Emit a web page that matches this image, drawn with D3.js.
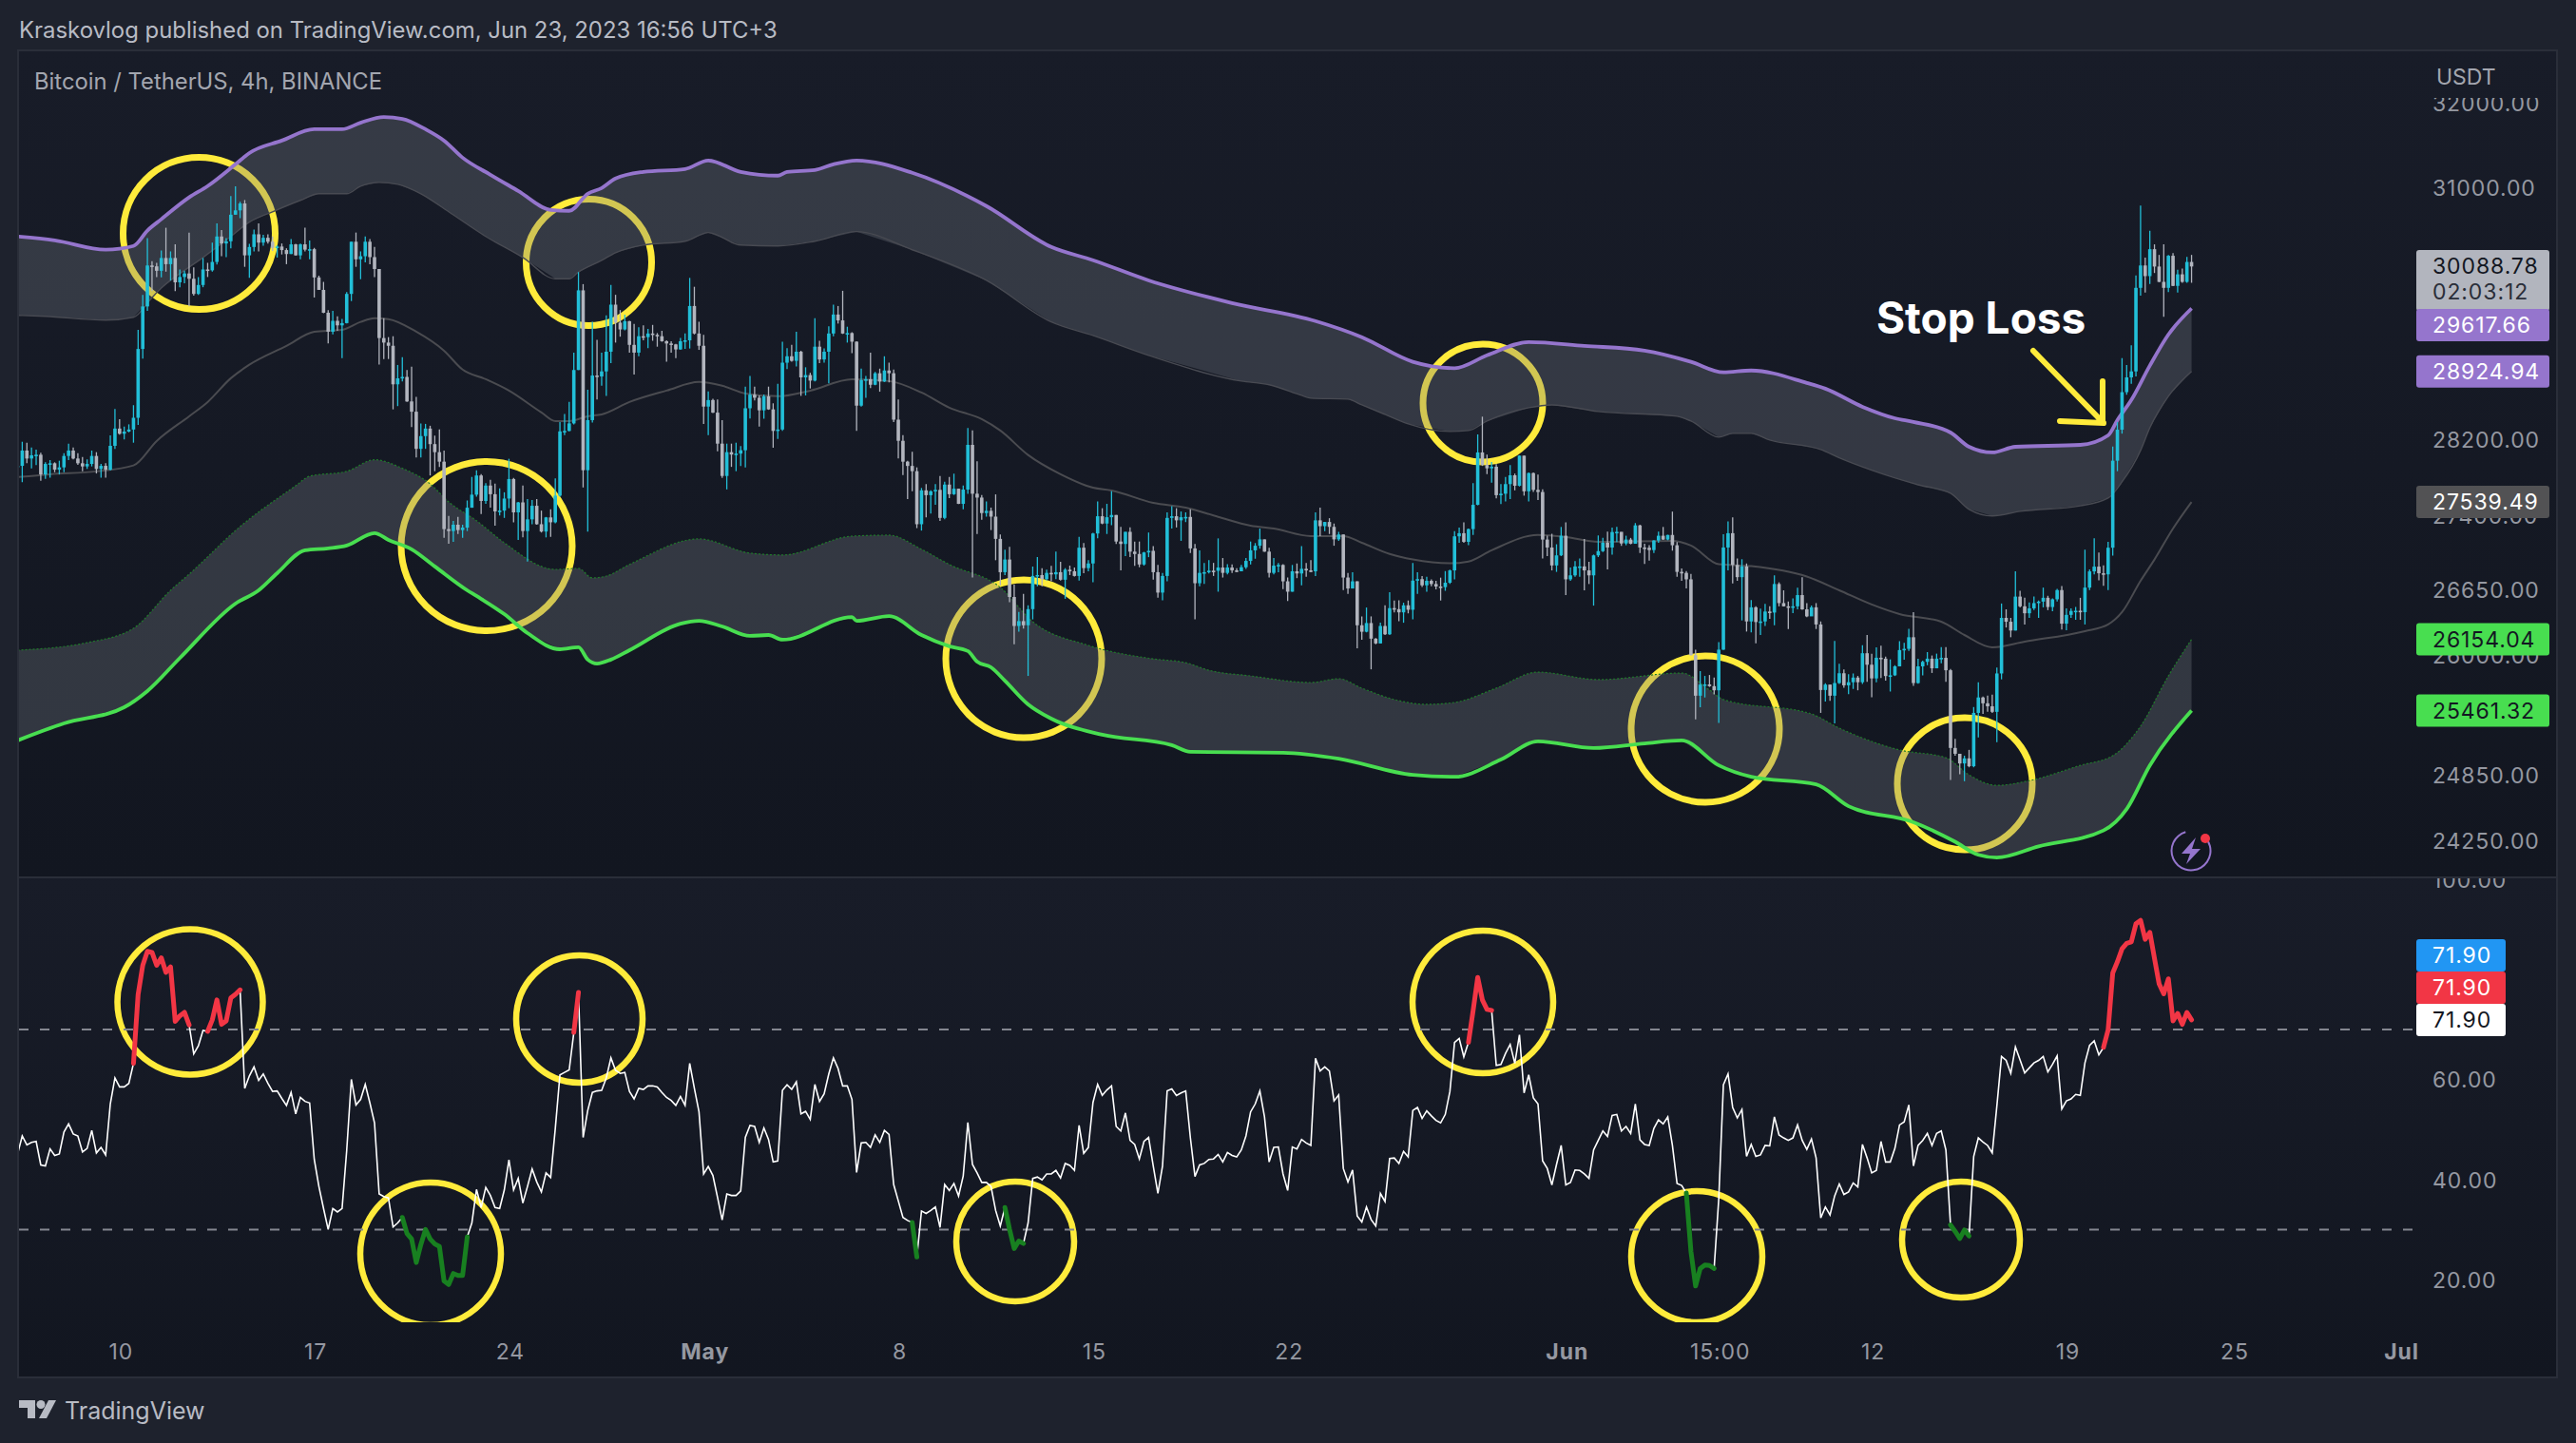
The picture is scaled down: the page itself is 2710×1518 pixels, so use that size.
<!DOCTYPE html>
<html>
<head>
<meta charset="utf-8">
<title>BTCUSDT 4h</title>
<script src="https://cdn.jsdelivr.net/npm/d3@7"></script>
<style>
  html, body { margin: 0; padding: 0; background: #1e222d; }
  svg { display: block; }
  text { font-family: Inter, "Noto Sans", sans-serif; }
</style>
</head>
<body>
<script>
// 4h candles, first bar Apr 6 11:00 (UTC+3). open of a bar = close of the bar before
var firstOpen = 27900
var closes = [
  27916,28077,27993,28027,28033,27826,27936,27943,27876,27900,
  28020,28077,27993,27943,27910,27936,28020,27883,27916,27876,
  28127,28310,28255,28278,28300,28425,29170,29640,30100,30090,
  30040,30185,30115,30185,29910,29970,30010,29950,29780,29880,
  30055,30045,30140,30430,30350,30375,30680,30730,30810,30215,
  30310,30455,30360,30415,30370,30300,30315,30275,30230,30340,
  30215,30340,30280,30285,29965,29825,29570,29360,29480,29430,
  29455,29780,30370,30170,30205,30370,30195,30060,29290,29240,
  29205,28785,28850,28865,28600,28490,28095,28230,28310,28145,
  28060,27960,27260,27240,27305,27250,27275,27480,27615,27815,
  27550,27710,27620,27442,27450,27575,27778,27432,27535,27240,
  27360,27500,27310,27235,27380,27330,27605,28280,28285,28365,
  28940,29820,27870,28400,28880,28870,28925,29140,29660,29460,
  29385,29476,29215,29130,29310,29300,29340,29325,29310,29255,
  29230,29220,29165,29255,29265,29645,29340,29205,28545,28615,
  28480,28150,27810,28060,28035,28045,28080,28527,28673,28640,
  28505,28655,28515,28285,28300,29020,29090,29040,29140,28860,
  28885,28825,29195,29055,29140,29340,29550,29485,29340,29345,
  29250,28555,28830,28840,28780,28905,28815,28935,28905,28405,
  28180,27960,27915,27860,27310,27660,27610,27650,27665,27375,
  27720,27620,27677,27520,27668,28137,27625,27585,27425,27448,
  27388,27160,26822,26950,26573,26285,26333,26292,26452,26784,
  26793,26752,26815,26800,26822,26746,26847,26831,26784,27070,
  26863,26910,27215,27392,27317,27382,27405,27133,27108,27232,
  27030,27006,26900,27022,27038,26822,26617,26784,27375,27392,
  27350,27382,27385,27063,26711,26815,26822,26837,26836,26869,
  26815,26869,26840,26831,26872,26936,27043,27090,27155,27030,
  26815,26888,26895,26730,26626,26831,26809,26856,26840,26831,
  27350,27290,27333,27283,27155,27205,26768,26658,26730,26292,
  26228,26314,26160,26113,26285,26203,26462,26452,26420,26490,
  26446,26737,26752,26690,26735,26703,26678,26672,26716,26840,
  27186,27218,27130,27260,27510,28057,27925,27890,27907,27610,
  27625,27725,27817,27708,28023,27650,27840,27665,27643,27153,
  27072,26890,26992,27192,26750,26790,26880,26880,26840,26790,
  26992,27035,27120,27072,27230,27232,27113,27153,27110,27298,
  27072,27070,27046,27143,27192,27153,27200,27095,26825,26815,
  26750,25998,25605,25712,25714,25697,25657,26052,27072,27218,
  26895,26772,26880,26330,26470,26324,26330,26428,26418,26703,
  26512,26480,26465,26480,26592,26450,26380,26470,26300,25660,
  25712,25605,25727,25822,25705,25735,25780,25735,26017,25905,
  25772,25973,25964,25795,25802,25889,26048,26060,26174,25727,
  25889,25933,25964,25870,25964,25972,25851,25107,25052,24961,
  25009,24935,25440,25588,25532,25503,25450,25820,26365,26327,
  26240,26577,26480,26411,26460,26512,26527,26565,26473,26550,
  26642,26308,26395,26434,26436,26422,26667,26830,26878,26811,
  26800,27070,27970,28298,28700,28860,28925,29848,30100,29980,
  30285,30088,29915,29848,30210,29870,30000,29915,30140,30088.78
]
var highs = [
  27950,28170,28160,28110,28087,28054,27953,27976,27953,27970,
  28050,28150,28110,28050,28010,27983,28077,28060,27936,27943,
  28237,28520,28410,28330,28355,28560,29380,29770,30410,30150,
  30130,30270,30530,30260,30340,30055,30040,30475,30080,29970,
  30185,30130,30360,30580,30505,30410,30895,31010,30830,30850,
  30345,30510,30580,30450,30455,30430,30330,30350,30295,30400,
  30345,30350,30530,30385,30300,29985,29915,29600,29590,29530,
  29500,29800,30370,30475,30260,30430,30400,30310,30060,29510,
  29300,29310,28995,29080,28940,28975,28650,28365,28360,28340,
  28235,28300,28077,27395,27345,27385,27305,27555,27800,27870,
  27830,27735,27770,27730,27680,27640,27990,27790,27540,27710,
  27570,27560,27570,27450,27385,27465,27785,28380,28465,28595,
  29130,30025,29890,28725,29470,29270,29130,29540,29880,29770,
  29600,29550,29480,29445,29410,29430,29390,29435,29345,29370,
  29265,29255,29225,29290,29340,29960,29860,29470,29325,28708,
  28630,28620,28400,28150,28150,28160,28125,28760,28875,28760,
  28665,28675,28760,28580,28790,29250,29180,29215,29360,29150,
  28970,28910,29510,29260,29175,29420,29660,29645,29815,29415,
  29355,29255,28955,28875,29130,28920,28955,29090,29020,28945,
  28620,28240,27970,28065,27900,27685,27725,27660,27725,27810,
  27750,27800,27834,27677,27710,28316,28290,27965,27612,27546,
  27481,27618,27205,27050,27080,26697,26425,26605,26490,26879,
  26974,26863,26847,26885,27030,26926,26863,26888,26869,27180,
  27117,26943,27222,27546,27475,27520,27651,27405,27283,27232,
  27277,27133,27133,27028,27225,27085,26895,26815,27432,27497,
  27475,27441,27432,27465,27108,27043,26916,26943,26916,27165,
  26965,26904,26900,26863,26895,26965,27133,27117,27265,27155,
  27070,26965,26916,26904,26768,26895,26910,27085,26916,26943,
  27432,27481,27335,27372,27317,27232,27205,26815,26822,26730,
  26380,26468,26380,26165,26317,26490,26620,26538,26541,26516,
  26538,26916,26822,26784,26775,26750,26735,26767,26833,26848,
  27240,27275,27330,27266,27735,28248,28437,28033,27957,27933,
  27725,27800,27925,27835,28025,28023,27847,27847,27825,27670,
  27192,27212,27105,27282,27330,26870,26935,26960,27160,26927,
  27000,27195,27170,27235,27275,27282,27230,27192,27170,27322,
  27305,27110,27095,27146,27235,27282,27202,27440,27127,26860,
  26833,26805,26052,25842,25796,25805,25780,26127,27208,27340,
  27380,26960,26953,26910,26543,26480,26457,26505,26480,26790,
  26720,26640,26528,26560,26665,26772,26512,26487,26512,26330,
  25725,25712,26137,25915,25860,25812,25820,25796,26095,26195,
  26012,26075,26090,25983,25957,25900,26135,26118,26258,26422,
  25964,25945,26028,25995,26013,26078,26078,25863,25192,25052,
  25034,25089,25496,25735,25597,25607,25615,25877,26508,26450,
  26365,26830,26635,26565,26518,26577,26538,26667,26585,26558,
  26655,26682,26460,26460,26473,26565,27050,26850,27165,27020,
  26890,27130,28120,28380,29070,28995,29210,29988,30785,30190,
  30495,30340,30220,30340,30220,30240,30053,30066,30197,30220
]
var lows = [
  27890,27745,27943,27890,27925,27760,27780,27792,27849,27826,
  27849,27976,27983,27926,27860,27883,27910,27836,27792,27792,
  27866,28094,28244,28195,28270,28160,28350,29065,29590,29810,
  29970,29965,30030,29930,29810,29855,29900,29640,29760,29770,
  29855,29970,30030,30110,30205,30195,30295,30680,30640,30085,
  29960,30260,30260,30325,30350,30265,30190,30225,30115,30230,
  30210,30170,30260,30170,29740,29825,29565,29230,29330,29370,
  29070,29450,29700,30085,29945,30135,30115,29970,29000,29060,
  29060,28515,28550,28815,28595,28325,28005,28005,28095,27815,
  27860,27905,27170,27110,27130,27210,27170,27240,27480,27595,
  27415,27520,27480,27295,27400,27375,27475,27330,27150,27175,
  26930,27310,27305,27225,27175,27180,27320,27595,28240,28280,
  28355,28940,27690,27235,28375,28620,28770,28660,29015,29240,
  29305,29375,29130,28890,29090,29265,29180,29260,29195,29250,
  29030,29130,29070,29160,29170,29175,29330,29160,28360,28240,
  28475,28070,27790,27670,27905,27860,27915,27900,28417,28610,
  28330,28415,28510,28107,28200,28285,28950,29030,28980,28660,
  28665,28740,28815,29015,29020,28795,29310,29450,29335,29240,
  29125,28285,28545,28640,28745,28775,28705,28810,28805,28380,
  27995,27820,27570,27650,27270,27245,27380,27420,27510,27345,
  27360,27580,27612,27518,27465,27625,26768,27210,27355,27388,
  27250,26943,26690,26793,26522,26104,26228,26260,25796,26350,
  26680,26680,26737,26730,26752,26737,26555,26793,26778,26737,
  26812,26831,26720,27165,27310,27210,27300,27108,26840,26984,
  26974,26885,26872,26888,26974,26746,26567,26541,26730,27265,
  27277,27140,27332,27016,26350,26680,26705,26809,26784,26626,
  26768,26800,26815,26822,26837,26856,26900,26958,27060,27028,
  26768,26800,26822,26652,26532,26626,26762,26690,26775,26822,
  26784,27188,27240,27210,27090,27140,26642,26605,26658,26066,
  26150,26222,25860,26104,26113,26196,26196,26420,26333,26317,
  26410,26350,26605,26674,26625,26680,26650,26538,26635,26703,
  26750,27120,27120,27095,27200,27505,27915,27830,27740,27577,
  27518,27545,27570,27660,27700,27605,27545,27643,27560,26960,
  26985,26840,26825,26985,26592,26735,26775,26775,26640,26703,
  26487,26975,27025,26850,27000,27127,27088,27095,27105,27113,
  27015,26905,26940,27015,27120,27150,27146,27040,26775,26735,
  26660,25995,25378,25495,25588,25690,25618,25345,26048,26840,
  26710,26735,26340,26230,26222,26115,26197,26285,26355,26292,
  26480,26478,26255,26412,26450,26445,26372,26385,26255,25440,
  25550,25555,25340,25718,25682,25620,25670,25657,25718,25740,
  25590,25735,25775,25750,25645,25795,25889,25953,26040,25700,
  25720,25802,25900,25825,25870,25920,25738,24807,25034,24860,
  24795,24925,24925,25206,25430,25450,25440,25162,25763,26270,
  26174,26240,26470,26300,26365,26442,26365,26470,26442,26430,
  26527,26250,26243,26365,26346,26346,26300,26642,26800,26740,
  26685,26642,26990,27860,28256,28672,28790,28870,29760,29795,
  29890,30015,29912,29525,29800,29868,29795,29905,29905,29905
]

// band lines as [bar number, price]
var bandUpper = [[0,30430],[8,30386],[19,30280],[25,30322],[28,30498],[31,30628],[37,30880],[41,31012],[47,31267],[50,31400],[57,31547],[64,31682],[70,31682],[74,31760],[79,31828],[83,31806],[88,31682],[92,31547],[96,31345],[102,31145],[108,30956],[115,30736],[119,30725],[123,30923],[126,30989],[129,31100],[135,31178],[144,31212],[149,31312],[156,31178],[164,31134],[166,31178],[172,31200],[176,31267],[181,31312],[193,31167],[209,30780],[223,30310],[232,30160],[244,29932],[262,29678],[280,29478],[290,29300],[301,29030],[310,28960],[317,29100],[326,29246],[338,29204],[351,29152],[361,29030],[368,28915],[374,28935],[386,28800],[390,28738],[398,28543],[405,28420],[409,28380],[417,28268],[421,28117],[426,28057],[431,28117],[445,28137],[451,28238],[453,28400],[456,28615],[460,28988],[464,29328],[469,29617.66]]
var bandUpperInner = [[0,29541],[6,29530],[19,29488],[25,29520],[29,29740],[31,29846],[40,30190],[46,30430],[50,30595],[55,30714],[61,30846],[65,30923],[71,30923],[74,31011],[78,31055],[82,31033],[87,30923],[93,30714],[101,30430],[109,30190],[116,29950],[119,29950],[121,30026],[126,30158],[129,30245],[135,30332],[144,30376],[149,30475],[156,30332],[164,30322],[172,30376],[181,30486],[193,30278],[209,29932],[223,29468],[232,29318],[244,29100],[264,28820],[270,28780],[277,28666],[279,28635],[287,28625],[290,28563],[295,28461],[300,28360],[309,28279],[313,28289],[317,28390],[326,28533],[331,28563],[341,28492],[358,28441],[361,28390],[367,28219],[370,28259],[374,28259],[378,28188],[389,28088],[393,28000],[400,27870],[410,27718],[417,27630],[421,27463],[426,27395],[432,27443],[445,27500],[451,27580],[454,27748],[458,28078],[460,28319],[464,28656],[469,28924.94]]
var bandMiddle = [[0,27798],[7,27828],[17,27858],[25,27920],[30,28178],[37,28441],[41,28594],[46,28851],[50,28998],[58,29204],[64,29360],[70,29381],[74,29468],[77,29510],[80,29499],[86,29360],[92,29151],[96,28945],[101,28840],[106,28717],[113,28482],[116,28390],[119,28390],[123,28441],[126,28461],[132,28594],[140,28717],[147,28810],[152,28769],[157,28686],[164,28656],[171,28717],[180,28840],[188,28820],[195,28696],[201,28533],[208,28410],[212,28289],[218,28030],[225,27828],[232,27688],[236,27659],[245,27530],[252,27481],[259,27386],[266,27296],[271,27266],[279,27189],[286,27189],[290,27120],[296,27006],[301,26950],[309,26912],[313,26930],[318,27044],[328,27199],[334,27179],[341,27130],[357,27140],[361,27092],[367,26902],[374,26883],[386,26778],[393,26640],[400,26498],[406,26403],[415,26327],[420,26196],[426,26075],[433,26131],[446,26234],[451,26300],[454,26422],[458,26735],[461,26950],[465,27266],[469,27539.49]]
var bandLowerInner = [[0,26047],[15,26121],[25,26262],[33,26640],[37,26802],[48,27286],[60,27708],[63,27808],[71,27858],[77,27980],[83,27890],[89,27728],[93,27540],[99,27346],[105,27120],[116,26850],[121,26860],[124,26764],[127,26783],[132,26900],[147,27160],[158,27015],[165,26996],[180,27188],[188,27198],[195,27054],[201,26900],[212,26669],[219,26327],[231,26094],[245,25962],[252,25925],[257,25851],[266,25796],[279,25732],[285,25769],[290,25678],[297,25568],[304,25522],[310,25540],[319,25678],[328,25833],[341,25760],[359,25824],[365,25660],[368,25568],[387,25430],[393,25295],[406,25088],[416,25015],[421,24854],[427,24756],[434,24800],[445,24943],[452,25034],[458,25313],[464,25796],[469,26154.04]]
var bandLower = [[0,25178],[10,25340],[23,25494],[28,25650],[35,25970],[47,26507],[52,26640],[56,26812],[62,27044],[67,27064],[71,27092],[77,27218],[80,27150],[85,27054],[90,26880],[97,26640],[99,26583],[105,26402],[110,26215],[117,26056],[121,26075],[123,25955],[125,25916],[128,25955],[132,26047],[143,26308],[147,26336],[152,26280],[158,26187],[162,26196],[165,26150],[180,26374],[181,26336],[188,26383],[195,26196],[201,26085],[205,26038],[207,25935],[210,25880],[213,25750],[218,25522],[223,25385],[234,25232],[249,25133],[253,25070],[273,25062],[285,25006],[301,24854],[310,24836],[320,24997],[328,25170],[340,25106],[351,25150],[359,25178],[367,24943],[374,24836],[388,24765],[395,24563],[409,24416],[418,24237],[423,24118],[427,24093],[436,24195],[450,24340],[455,24537],[460,24943],[469,25461.32]]

var rsi = [
  45.1,48.7,46.9,47.4,47.6,42.9,42.7,46.1,44.8,45.1,
  49.5,51.1,49.1,48.7,45.5,46.2,49.8,45.3,46.4,44.9,
  55.1,60.3,58.5,58.5,59.2,63.2,77.0,82.8,85.6,85.4,
  82.8,84.3,81.4,82.5,71.6,72.7,73.4,70.9,65.1,66.7,
  69.8,69.6,71.9,75.9,71.0,71.7,76.3,77.0,77.9,58.2,
  60.7,62.5,59.8,61.1,59.2,57.6,57.7,56.2,54.8,57.4,
  53.1,56.4,55.6,55.3,44.0,38.6,34.2,30.0,34.2,33.5,
  34.2,45.8,60.0,54.9,56.0,59.0,55.3,51.3,37.1,36.6,
  36.3,30.5,31.3,32.4,29.2,28.1,23.4,27.0,30.0,28.1,
  27.1,26.6,19.7,19.0,21.2,20.8,20.8,28.5,31.3,38.0,
  34.4,38.4,36.8,34.4,34.2,37.9,43.9,37.9,40.2,35.3,
  38.6,42.1,39.5,37.5,41.3,40.4,50.2,60.9,61.4,61.9,
  69.4,77.4,48.4,53.8,57.4,57.7,57.8,60.3,64.3,61.8,
  61.2,61.4,57.6,56.1,58.2,58.0,58.7,58.7,58.5,57.4,
  56.4,55.8,54.8,56.6,54.8,63.2,58.2,53.5,41.1,42.6,
  40.8,36.4,31.9,37.1,36.8,36.8,37.7,48.4,50.8,50.6,
  47.4,50.3,48.0,43.5,43.7,57.8,58.9,58.0,59.5,53.1,
  53.6,52.0,59.0,55.6,57.1,61.1,64.3,62.2,58.7,58.7,
  56.0,41.4,47.3,47.4,46.4,48.9,47.4,49.8,49.0,39.0,
  35.7,32.4,31.8,31.4,24.5,33.7,33.2,33.8,34.5,30.4,
  39.0,37.8,39.2,36.7,40.7,51.4,43.0,41.3,39.4,39.4,
  38.6,33.8,30.7,34.4,30.0,26.2,27.7,27.2,31.3,40.2,
  40.5,39.9,41.1,41.1,41.8,40.3,43.2,42.8,41.8,50.8,
  45.2,46.4,55.4,59.0,56.8,57.9,58.7,50.6,49.7,53.3,
  47.8,47.0,44.1,47.6,48.4,42.7,37.2,42.7,57.7,58.1,
  56.8,57.3,57.7,48.4,40.6,42.9,43.2,44.0,44.1,45.0,
  43.5,45.4,44.8,44.5,45.9,48.7,53.5,55.1,57.7,52.5,
  43.5,46.4,46.5,41.1,37.8,46.5,46.1,48.0,47.3,46.8,
  64.2,61.7,62.5,61.7,55.7,56.9,42.2,39.5,41.9,32.7,
  31.5,34.5,32.0,30.7,37.2,35.6,44.2,44.3,43.2,45.6,
  44.5,53.8,54.4,52.2,53.7,52.7,51.8,51.3,53.0,57.6,
  67.4,68.2,64.5,67.4,73.7,80.4,75.9,74.0,73.8,62.8,
  63.0,65.2,67.0,63.2,68.9,57.3,60.9,56.3,55.1,43.7,
  42.2,38.9,43.0,46.8,38.9,39.4,41.9,41.8,41.1,40.2,
  45.9,47.8,49.7,48.6,52.8,53.0,49.7,50.6,49.2,55.1,
  47.9,47.0,46.8,50.2,51.9,51.1,52.5,46.8,39.2,38.8,
  37.3,25.6,18.7,22.2,22.9,22.8,22.2,36.1,58.9,61.1,
  54.4,52.3,54.0,44.6,47.0,44.6,44.9,46.8,46.7,52.5,
  48.9,48.3,47.8,48.3,50.9,47.8,46.0,48.1,44.3,32.3,
  34.5,32.9,36.7,39.1,37.0,37.5,39.3,38.5,47.0,44.3,
  41.3,41.8,47.6,43.5,43.5,46.2,50.9,51.5,54.9,42.7,
  46.8,47.8,49.2,46.8,49.2,49.7,45.9,30.9,29.6,28.2,
  29.9,28.7,44.6,48.3,47.5,46.8,45.3,54.7,64.6,63.8,
  61.2,66.5,63.9,61.3,62.3,63.3,63.8,64.6,61.5,63.0,
  64.7,54.1,55.7,56.1,57.0,56.8,63.3,66.8,67.7,64.9,
  66.4,69.9,81.3,83.5,86.1,87.2,87.5,91.1,91.8,88.0,
  89.4,84.2,79.1,77.1,80.1,71.7,73.2,71.0,73.4,71.9
]
// stretches of the RSI the indicator paints thick: [first bar, last bar]
var rsiRedRuns = [[25,37],[41,48],[120,121],[313,318],[450,469]]
var rsiGreenRuns = [[83,97],[193,194],[213,217],[360,366],[417,421]]
var rsiLevels = [70,30]

var priceTicks = [32000,31000,28200,27400,26650,26000,24850,24250]
var rsiTicks = [100,60,40,20]
var timeTicks = [
  [Date.UTC(2023,3,10,3),'10'],[Date.UTC(2023,3,17,3),'17'],[Date.UTC(2023,3,24,3),'24'],
  [Date.UTC(2023,4,1,3),'May'],[Date.UTC(2023,4,8,3),'8'],[Date.UTC(2023,4,15,3),'15'],
  [Date.UTC(2023,4,22,3),'22'],[Date.UTC(2023,5,1,3),'Jun'],[Date.UTC(2023,5,6,15),'15:00'],
  [Date.UTC(2023,5,12,3),'12'],[Date.UTC(2023,5,19,3),'19'],[Date.UTC(2023,5,25,3),'25'],
  [Date.UTC(2023,6,1,3),'Jul']
]
var boldTicks = ['May','Jun','Jul']

var W = 2710, H = 1518
var svg = d3.select('body').append('svg').attr('width', W).attr('height', H)
var defs = svg.append('defs')

var paneL = 20, paneR = 2689, priceT = 54, sepY = 923, paneB = 1448

function gradient(id, top, bottom) {
  var g = defs.append('linearGradient').attr('id', id).attr('x1', 0).attr('y1', 0).attr('x2', 0).attr('y2', 1)
  g.append('stop').attr('offset', 0).attr('stop-color', top)
  g.append('stop').attr('offset', 1).attr('stop-color', bottom)
}
gradient('pricePane', '#181c28', '#121620')
gradient('rsiPane', '#181c28', '#121620')

function clip(id, x, y, w, h) {
  defs.append('clipPath').attr('id', id).append('rect').attr('x', x).attr('y', y).attr('width', w).attr('height', h)
}
clip('priceClip', paneL, priceT, paneR - paneL, sepY - priceT)
clip('rsiClip', paneL, sepY, paneR - paneL, paneB - sepY)
clip('rsiCircleClip', paneL, sepY, paneR - paneL, 1391 - sepY)
clip('priceAxisClip', 2500, 103, 190, sepY - 103)
clip('rsiAxisClip', 2500, sepY + 1, 190, paneB - sepY)

svg.append('rect').attr('width', W).attr('height', H).attr('fill', '#1e222d')
svg.append('rect').attr('x', paneL).attr('y', priceT).attr('width', paneR - paneL).attr('height', sepY - priceT).attr('fill', 'url(#pricePane)')
svg.append('rect').attr('x', paneL).attr('y', sepY).attr('width', paneR - paneL).attr('height', paneB - sepY).attr('fill', 'url(#rsiPane)')
svg.append('rect').attr('x', paneL - 1).attr('y', priceT - 1).attr('width', paneR - paneL + 2).attr('height', paneB - priceT + 2)
  .attr('fill', 'none').attr('stroke', '#2a2e39').attr('stroke-width', 2)
svg.append('line').attr('x1', paneL).attr('x2', paneR).attr('y1', sepY).attr('y2', sepY).attr('stroke', '#2a2e39').attr('stroke-width', 2)

// scales
var firstBar = Date.UTC(2023,3,6,11)
var barMs = 4 * 3600 * 1000
var x = d3.scaleUtc().domain([Date.UTC(2023,3,10,3), Date.UTC(2023,6,1,3)]).range([125.8, 2525])
var y = d3.scaleLog().domain([24250, 32000]).range([884, 108])
var yRsi = d3.scaleLinear().domain([20, 100]).range([1346, 925])
function barX(i) { return x(firstBar + i * barMs) }

var bars = closes.map(function (c, i) {
  return { i: i, open: i ? closes[i - 1] : firstOpen, close: c, high: highs[i], low: lows[i] }
})

// ---- price pane
var pricePane = svg.append('g').attr('clip-path', 'url(#priceClip)')

var priceCircles = [[209.5,245.5,80,80],[619.5,276,66,66.5],[512,574.5,90,89],[1077,693,82,83],[1560,424,63,62],[1794,767,78,77],[2067,824.5,71,69.5]]
pricePane.selectAll('ellipse').data(priceCircles).join('ellipse')
  .attr('cx', d => d[0]).attr('cy', d => d[1]).attr('rx', d => d[2]).attr('ry', d => d[3])
  .attr('fill', 'none').attr('stroke', '#ffeb3b').attr('stroke-width', 7)

var bandLine = d3.line().x(d => barX(d[0])).y(d => y(d[1])).curve(d3.curveMonotoneX)
function ribbon(a, b) {
  // b runs backwards, so it is drawn straight between its points
  var back = d3.line().x(d => barX(d[0])).y(d => y(d[1]))(b.slice().reverse())
  return bandLine(a) + 'L' + back.slice(1) + 'Z'
}
pricePane.append('path').attr('d', ribbon(bandUpper, bandUpperInner)).attr('fill', 'rgba(118,122,132,0.325)')
pricePane.append('path').attr('d', ribbon(bandLowerInner, bandLower)).attr('fill', 'rgba(118,122,132,0.325)')

function drawBand(data, color, width, dash) {
  pricePane.append('path').attr('d', bandLine(data)).attr('fill', 'none')
    .attr('stroke', color).attr('stroke-width', width).attr('stroke-dasharray', dash || null)
    .attr('stroke-linejoin', 'round')
}
drawBand(bandUpperInner, '#484a52', 1.4)
drawBand(bandMiddle, '#4a4b50', 2)
drawBand(bandLowerInner, '#1f7a2a', 1.2, '2 2')
drawBand(bandUpper, '#9575cd', 3.8)
drawBand(bandLower, '#48de50', 3.8)

var teal = '#22bfd8', grey = '#b2b5be'
function barColor(d) { return d.close >= d.open ? teal : grey }
pricePane.selectAll('line.wick').data(bars).join('line').attr('class', 'wick')
  .attr('x1', d => barX(d.i)).attr('x2', d => barX(d.i))
  .attr('y1', d => y(d.high)).attr('y2', d => y(d.low))
  .attr('stroke', barColor).attr('stroke-width', 1.3)
pricePane.selectAll('rect.body').data(bars).join('rect').attr('class', 'body')
  .attr('x', d => barX(d.i) - 1.8).attr('width', 3.6)
  .attr('y', d => y(Math.max(d.open, d.close)))
  .attr('height', d => Math.max(1.6, Math.abs(y(d.open) - y(d.close))))
  .attr('fill', barColor)

// hand drawn note
svg.append('text').attr('x', 1974).attr('y', 351).attr('fill', '#fff')
  .attr('font-size', 46).attr('font-weight', 700).text('Stop Loss')
svg.append('path').attr('d', 'M2139 369L2212 444M2167 443L2213 445M2212 401V445')
  .attr('fill', 'none').attr('stroke', '#ffeb3b').attr('stroke-width', 6).attr('stroke-linecap', 'round').attr('stroke-linejoin', 'round')

// lightning badge at the last bar
var badge = svg.append('g').attr('transform', 'translate(2305,895)')
badge.append('path').attr('d', d3.arc()({ innerRadius: 19.5, outerRadius: 21.5, startAngle: 0.9, endAngle: 6.0 }))
  .attr('fill', '#9575cd')
badge.append('path').attr('d', 'M5 -14L-10 3H-1L-5 14L10 -2H1Z').attr('fill', '#9575cd')
badge.append('circle').attr('cx', 15).attr('cy', -13).attr('r', 5).attr('fill', '#f23645')

// ---- RSI pane
var rsiCircles = [[200,1054,76.5,76.5],[453,1319,74,75],[609.5,1072,66.5,67],[1068,1306,62,63],[1560,1054,74,75],[1785,1322,69,69],[2063,1304,62,61]]
svg.append('g').attr('clip-path', 'url(#rsiCircleClip)')
  .selectAll('ellipse').data(rsiCircles).join('ellipse')
  .attr('cx', d => d[0]).attr('cy', d => d[1]).attr('rx', d => d[2]).attr('ry', d => d[3])
  .attr('fill', 'none').attr('stroke', '#ffeb3b').attr('stroke-width', 6.5)

svg.append('g').selectAll('line').data(rsiLevels).join('line')
  .attr('x1', paneL).attr('x2', 2540)
  .attr('y1', d => yRsi(d)).attr('y2', d => yRsi(d))
  .attr('stroke', '#83868f').attr('stroke-width', 2).attr('stroke-dasharray', '10 12')

var rsiLine = d3.line().x((d, i) => barX(i)).y(d => yRsi(d))
var rsiG = svg.append('g').attr('clip-path', 'url(#rsiClip)')
rsiG.append('path').attr('d', rsiLine(rsi)).attr('fill', 'none').attr('stroke', '#fff').attr('stroke-width', 1.6)
function drawRuns(runs, color) {
  var runLine = d3.line().x(d => barX(d)).y(d => yRsi(rsi[d]))
  rsiG.selectAll(null).data(runs).join('path')
    .attr('d', d => runLine(d3.range(d[0], d[1] + 1)))
    .attr('fill', 'none').attr('stroke', color).attr('stroke-width', 5)
    .attr('stroke-linecap', 'round').attr('stroke-linejoin', 'round')
}
drawRuns(rsiRedRuns, '#f23645')
drawRuns(rsiGreenRuns, '#188020')

// ---- axes
function styleAxis(g) {
  g.select('.domain').remove()
  g.selectAll('text').attr('font-family', 'Inter, "Noto Sans", sans-serif').attr('font-size', 23)
    .attr('fill', '#9598a1').attr('letter-spacing', '0.9px')
}
svg.append('g').attr('clip-path', 'url(#priceAxisClip)').append('g').attr('transform', 'translate(2559,1)')
  .call(d3.axisRight(y).tickValues(priceTicks).tickSize(0).tickPadding(0).tickFormat(d3.format('.2f')))
  .call(styleAxis)
svg.append('g').attr('clip-path', 'url(#rsiAxisClip)').append('g').attr('transform', 'translate(2559,1)')
  .call(d3.axisRight(yRsi).tickValues(rsiTicks).tickSize(0).tickPadding(0).tickFormat(d3.format('.2f')))
  .call(styleAxis)

var tickLabel = new Map(timeTicks)
svg.append('g').attr('transform', 'translate(1,1414)')
  .call(d3.axisBottom(x).tickValues(timeTicks.map(d => new Date(d[0]))).tickSize(0).tickPadding(0)
    .tickFormat(d => tickLabel.get(+d)))
  .call(styleAxis)
  .selectAll('text').attr('font-weight', d => boldTicks.includes(tickLabel.get(+d)) ? 700 : 400)

// value tags on the scale
function tag(yc, right, fill, color, label) {
  svg.append('rect').attr('x', 2542).attr('y', yc - 17).attr('width', right - 2542).attr('height', 34).attr('rx', 3).attr('fill', fill)
  tagText(yc, color, label)
}
function tagText(yc, color, label) {
  svg.append('text').attr('x', 2559).attr('y', yc).attr('dy', '0.36em').attr('font-size', 23)
    .attr('letter-spacing', '0.9px').attr('fill', color).text(label)
}
svg.append('rect').attr('x', 2542).attr('y', 263).attr('width', 140).attr('height', 64).attr('rx', 3).attr('fill', '#b2b5be')
tagText(280, '#131722', d3.format('.2f')(closes[closes.length - 1]))
tagText(307, '#2a2e39', '02:03:12')
tag(342, 2682, '#9575cd', '#fff', '29617.66')
tag(y(28924.94), 2682, '#9575cd', '#fff', '28924.94')
tag(y(27539.49), 2682, '#525254', '#fff', '27539.49')
tag(y(26154.04), 2682, '#48de50', '#131722', '26154.04')
tag(y(25461.32), 2682, '#48de50', '#131722', '25461.32')
tag(1005, 2636, '#2196f3', '#fff', '71.90')
tag(1039, 2636, '#f23645', '#fff', '71.90')
tag(1073, 2636, '#ffffff', '#131722', '71.90')

svg.append('text').attr('x', 2563).attr('y', 81).attr('dy', '0.36em').attr('font-size', 23).attr('fill', '#a3a6af').text('USDT')

// header, title, footer
svg.append('text').attr('x', 20).attr('y', 31).attr('dy', '0.36em').attr('font-size', 23.9).attr('fill', '#b8bbc4')
  .text('Kraskovlog published on TradingView.com, Jun 23, 2023 16:56 UTC+3')
svg.append('text').attr('x', 36).attr('y', 85).attr('dy', '0.36em').attr('font-size', 23.8).attr('fill', '#a3a6af')
  .text('Bitcoin / TetherUS, 4h, BINANCE')

var logo = svg.append('g').attr('transform', 'translate(20,1473)').attr('fill', '#b8bbc4')
logo.append('path').attr('d', 'M0 0H17V19H9V8H0Z')
logo.append('circle').attr('cx', 23).attr('cy', 4.5).attr('r', 4.5)
logo.append('path').attr('d', 'M31 0H39L29 19H21Z')
svg.append('text').attr('x', 68).attr('y', 1484).attr('dy', '0.36em').attr('font-size', 25).attr('fill', '#b8bbc4').text('TradingView')
</script>
</body>
</html>
